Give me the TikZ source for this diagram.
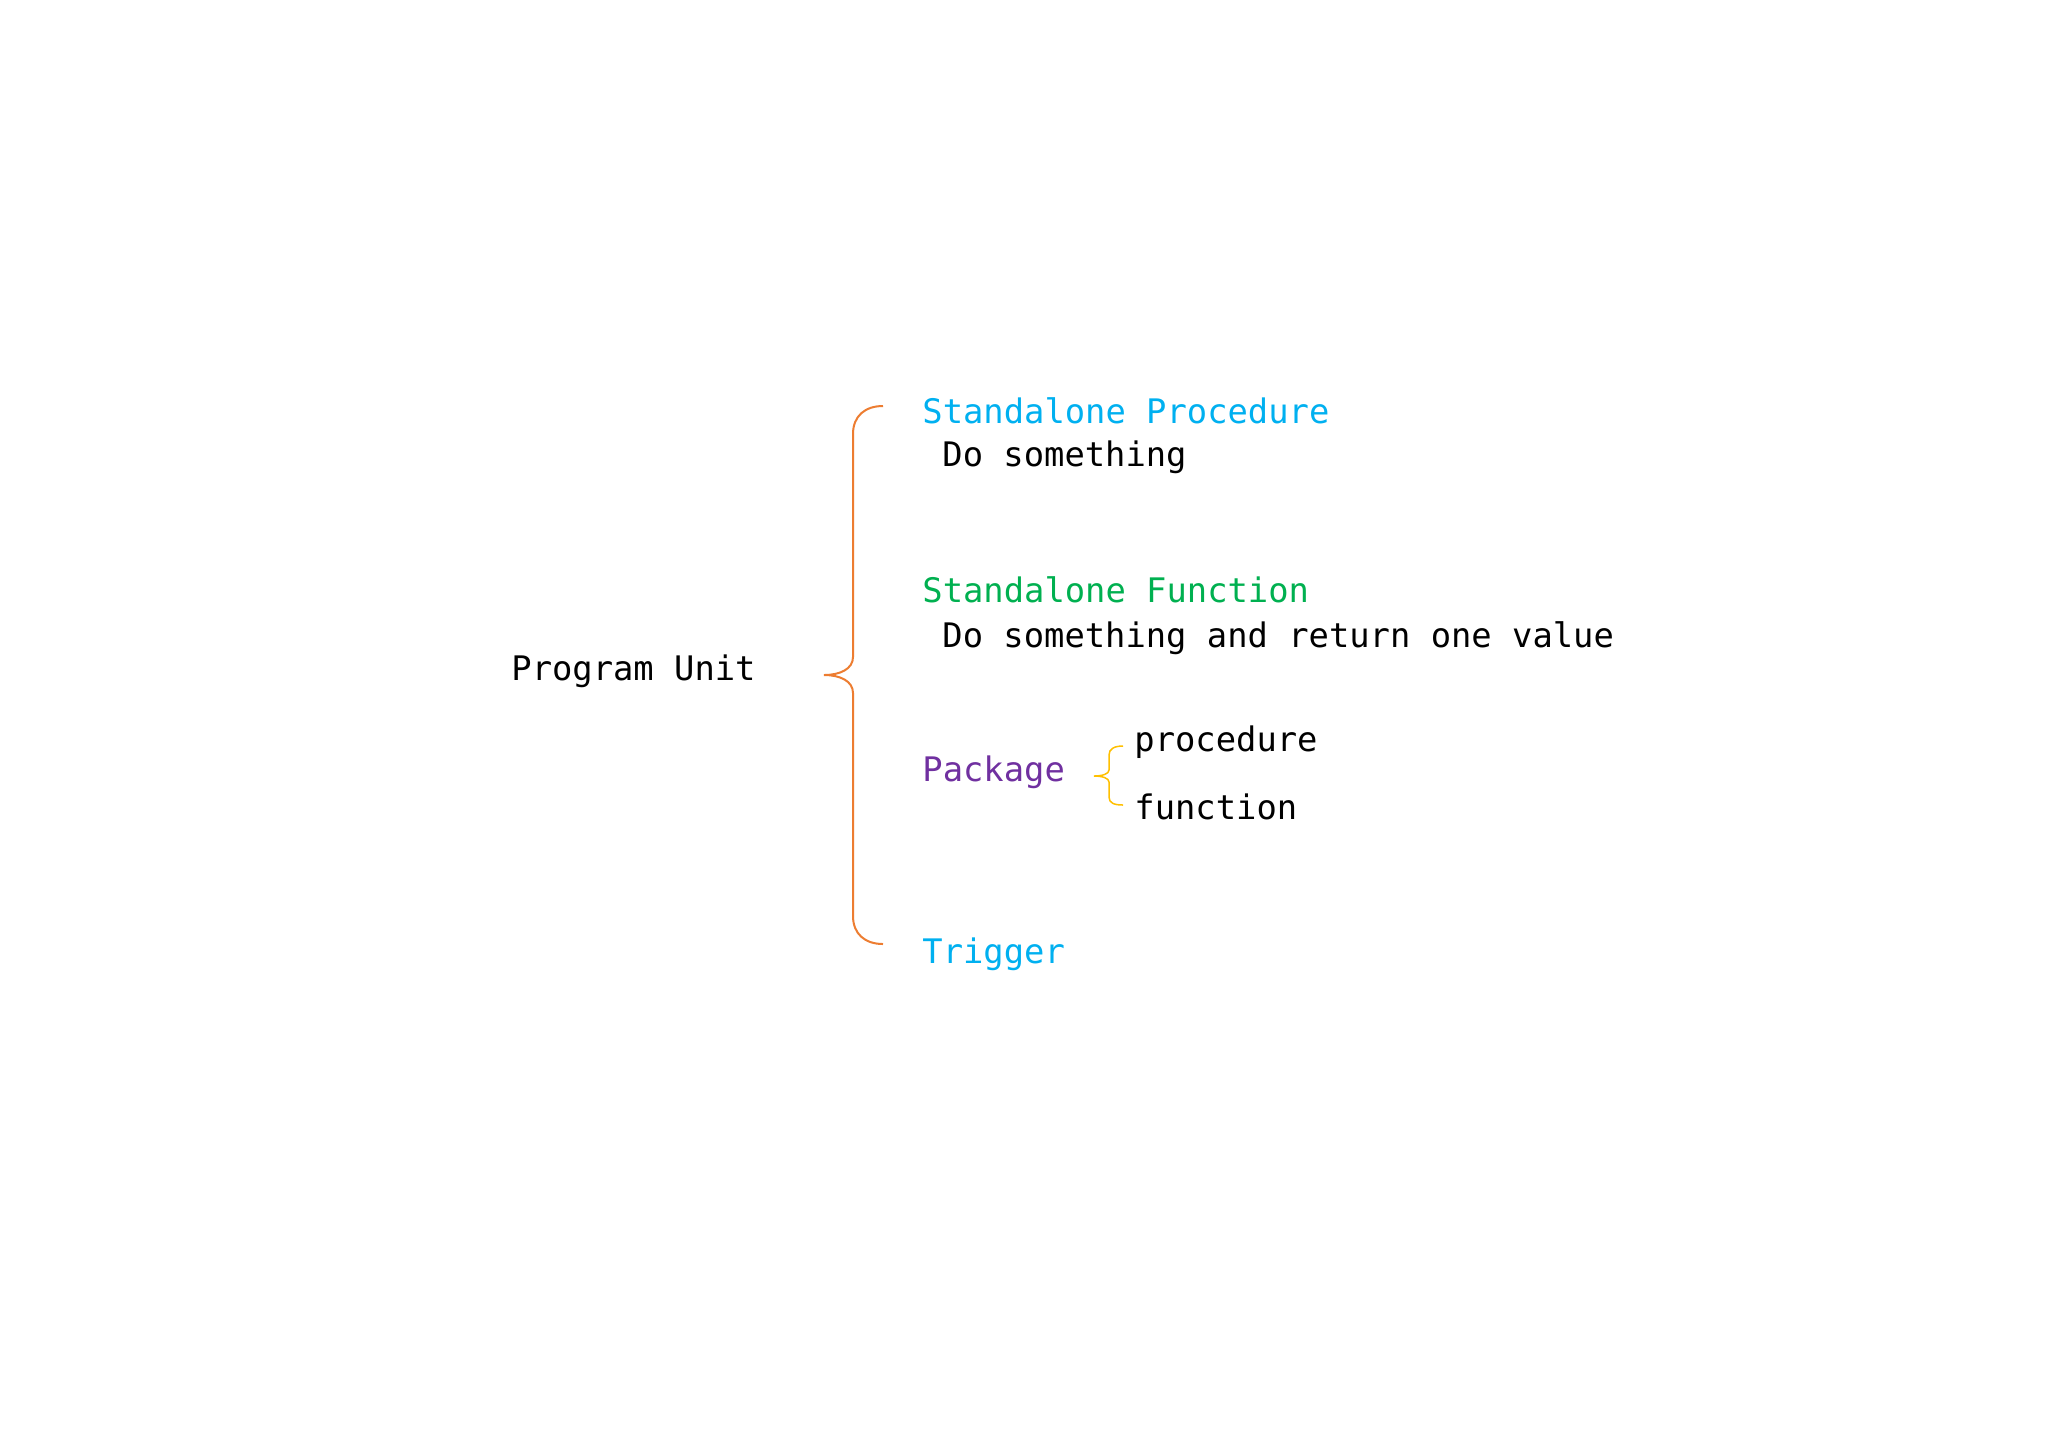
\documentclass[tikz,border=0pt]{standalone}
\usepackage{fontspec}
\setmonofont{DejaVu Sans Mono}
\definecolor{cblue}{HTML}{00B0F0}
\definecolor{cgreen}{HTML}{00B050}
\definecolor{cpurple}{HTML}{7030A0}
\definecolor{corange}{HTML}{ED7D31}
\definecolor{cyellow}{HTML}{FFC000}
\tikzset{
  lbl/.style={anchor=base west, inner sep=0pt, font=\ttfamily\fontsize{16.9}{20}\selectfont},
  bigbrace/.style={draw=corange, line width=1pt},
  smallbrace/.style={draw=cyellow, line width=0.75pt}
}
\begin{document}
\begin{tikzpicture}[x=0.5pt, y=-0.5pt]
\useasboundingbox[fill=white] (0,0) rectangle (2048,1447);
\node[lbl] (pu) at (511,680) {Program Unit};
\node[lbl, text=cblue] (sp) at (922,423) {Standalone Procedure};
\node[lbl] (spd) at (942,466) {Do something};
\node[lbl, text=cgreen] (sf) at (922,602) {Standalone Function};
\node[lbl] (sfd) at (942,647) {Do something and return one value};
\node[lbl, text=cpurple] (pk) at (922,781) {Package};
\node[lbl] (pkp) at (1134,751) {procedure};
\node[lbl] (pkf) at (1134,819) {function};
\node[lbl, text=cblue] (tr) at (922,963) {Trigger};
% big brace
\coordinate (bt) at (883,406);
\coordinate (bm) at (824,675);
\coordinate (bb) at (883,944);
\draw[bigbrace] (bt) .. controls (865,406) and (853,416) .. (853,434) -- (853,657)
  .. controls (853,669) and (840,675) .. (bm)
  .. controls (840,675) and (853,681) .. (853,693) -- (853,916)
  .. controls (853,934) and (865,944) .. (bb);
% small brace
\coordinate (st) at (1123,746);
\coordinate (sm) at (1094,776);
\coordinate (sb) at (1123,805);
\draw[smallbrace] (st) .. controls (1114,746) and (1109,749) .. (1109,755) -- (1109,770)
  .. controls (1109,774) and (1102,776) .. (sm)
  .. controls (1102,776) and (1109,778) .. (1109,782) -- (1109,797)
  .. controls (1109,803) and (1114,805) .. (sb);
\end{tikzpicture}
\end{document}
